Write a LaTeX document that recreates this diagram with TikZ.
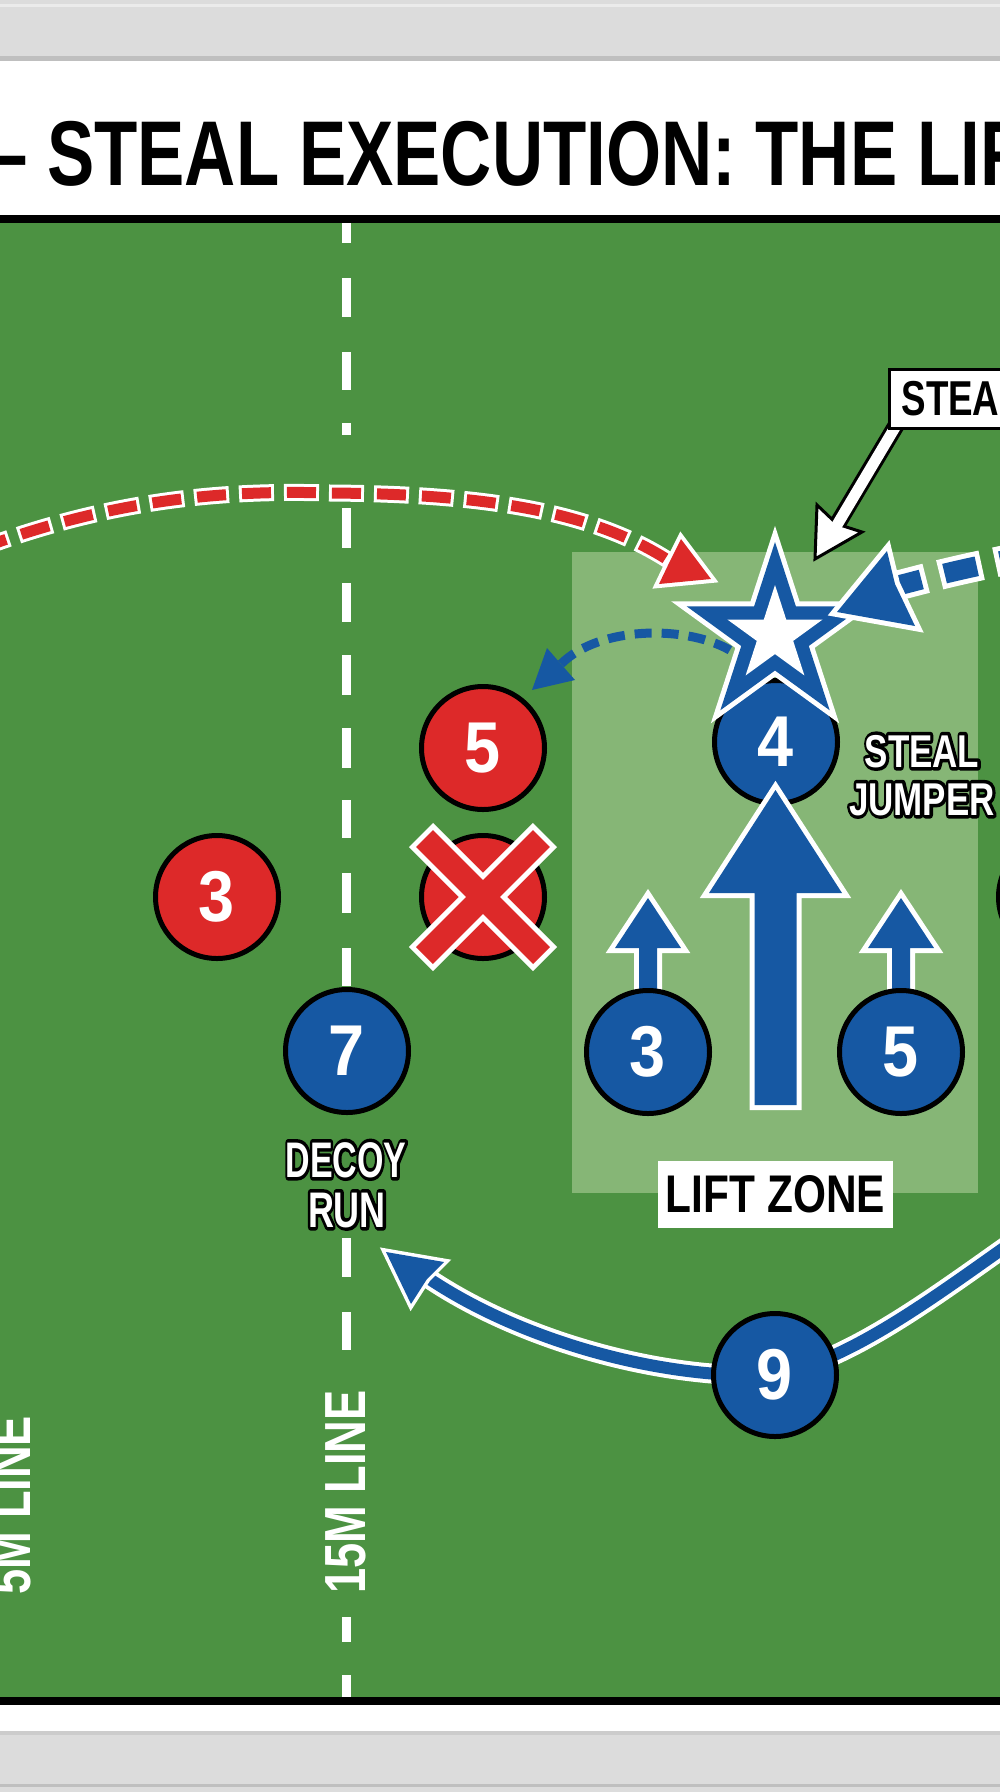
\documentclass[tikz,border=0pt]{standalone}
\usepackage{fontspec}
\setmainfont{Liberation Sans}
\usepackage{graphicx}
\definecolor{field}{RGB}{76,146,66}
\definecolor{zone}{RGB}{134,182,118}
\definecolor{tred}{RGB}{221,41,41}
\definecolor{tblue}{RGB}{22,88,163}
\definecolor{bandgray}{RGB}{220,220,220}
\newcommand\outl[1]{\leavevmode\rlap{\color{black}\special{pdf:literal direct 2 Tr 7 w 1 j}#1\special{pdf:literal direct 0 Tr 1 w 0 j}}{\color{white}#1}}
\newcommand\num[1]{\scalebox{0.9}[1]{#1}}
\tikzset{
  player/.style={circle, draw=black, line width=5pt, minimum size=123pt, inner sep=0pt, text=white, font=\fontsize{72}{72}\selectfont\bfseries},
  redp/.style={player, fill=tred},
  bluep/.style={player, fill=tblue},
  fieldlabel/.style={rotate=90, text=white, inner sep=0pt, font=\fontsize{58}{58}\selectfont\bfseries},
  outlabel/.style={anchor=base, inner sep=0pt, text=white},
  bluearrow/.style={fill=tblue, preaction={draw=white, line width=10pt, line join=miter}},
}
\begin{document}
\begin{tikzpicture}[x=1pt,y=-1pt]
\useasboundingbox (0,0) rectangle (1000,1792);
\begin{scope}
\clip (0,0) rectangle (1000,1792);
% frame
\fill[bandgray] (0,0) rectangle (1000,60);
\fill[white!92!black] (0,4) rectangle (1000,7);
\fill[black!25] (0,56) rectangle (1000,61);
\fill[white] (0,61) rectangle (1000,215);
\fill[black] (0,215) rectangle (1000,223);
\fill[field] (0,223) rectangle (1000,1697);
\fill[black] (0,1697) rectangle (1000,1705);
\fill[white] (0,1705) rectangle (1000,1731);
\fill[black!20] (0,1731) rectangle (1000,1735);
\fill[bandgray] (0,1735) rectangle (1000,1792);
\fill[black!25] (0,1784) rectangle (1000,1787);
% lift zone
\fill[zone] (572,552) rectangle (978,1193);
% 15m line
\foreach \a/\b in {223/243, 278/317, 352/390, 423/435, 508/548, 583/622, 655/695, 728/768, 800/838, 873/913, 948/986, 1238/1277, 1312/1350, 1617/1642, 1675/1697}
  \fill[white] (341.5,\a) rectangle (350.5,\b);
\node[fieldlabel] (l15) at (346,1492) {\scalebox{0.78}[1]{15M LINE}};
\node[fieldlabel] (l5) at (11,1505) {\scalebox{0.78}[1]{5M LINE}};
% red dashed arc
\coordinate (redtail) at (668,560);
\coordinate (redstart) at (-10,545);
\draw[white, line width=17pt, dash pattern=on 35pt off 10pt] (redtail) .. controls (590,510) and (480,494) .. (330,493) .. controls (230,490) and (120,498) .. (redstart);
\draw[tred, line width=11pt, dash pattern=on 29pt off 16pt, dash phase=42pt] (redtail) .. controls (590,510) and (480,494) .. (330,493) .. controls (230,490) and (120,498) .. (redstart);
\path[fill=tred, preaction={draw=white, line width=8pt, line join=miter}] (711,579) -- (681,539) -- (670,561) -- (659,584) -- cycle;
% small blue dashed arc from star to red 5
\coordinate (smalltail) at (561,664);
\coordinate (smallstart) at (733,652);
\draw[tblue, line width=9pt, dash pattern=on 17pt off 10pt] (smalltail) .. controls (600,625) and (690,625) .. (smallstart);
\fill[tblue] (532,690) -- (547,648) -- (560,663) -- (575,680) -- cycle;
% blue 9 band
\coordinate (b9in) at (1015,1240);
\coordinate (b9c) at (775,1375);
\coordinate (decoyend) at (428,1278);
\draw[white, line width=20pt] (b9in) .. controls (930,1300) and (850,1360) .. (b9c) .. controls (660,1380) and (520,1340) .. (decoyend);
\draw[tblue, line width=12pt] (b9in) .. controls (930,1300) and (850,1360) .. (b9c) .. controls (660,1380) and (520,1340) .. (decoyend);
\path[fill=tblue, preaction={draw=white, line width=7pt, line join=miter}] (386,1252) -- (444,1262) -- (427,1279) -- (411,1304) -- cycle;
% small lift arrows
\path[bluearrow, preaction={draw=white, line width=8pt, line join=miter}] (648,898) -- (681,948) -- (657,948) -- (657,1000) -- (639,1000) -- (639,948) -- (615,948) -- cycle;
\path[bluearrow, preaction={draw=white, line width=8pt, line join=miter}] (901,898) -- (934,948) -- (910,948) -- (910,1000) -- (892,1000) -- (892,948) -- (868,948) -- cycle;
% players
\node[redp] (r5) at (483,748) {\num{5}};
\node[redp] (rx) at (483,897) {};
\node[redp] (r3) at (217,897) {\num{3}};
\node[redp] (redge) at (1060,897) {};
\node[bluep] (b7) at (347,1051) {\num{7}};
\node[bluep] (b3) at (648,1052) {\num{3}};
\node[bluep] (b5) at (901,1052) {\num{5}};
\node[bluep] (b4) at (776,742) {\num{4}};
\node[bluep] (b9) at (b9c) {\num{9}};
% big lift arrow
\path[bluearrow] (775.5,790) -- (842,893) -- (796.5,893) -- (796.5,1105) -- (754.5,1105) -- (754.5,893) -- (709,893) -- cycle;
% star
\begin{scope}[shift={(775,635)}]
\path[fill=tblue, preaction={draw=white, line width=10pt, line join=miter}] (270:93) -- (306:35.5) -- (342:93) -- (18:35.5) -- (54:93) -- (90:35.5) -- (126:93) -- (162:35.5) -- (198:93) -- (234:35.5) -- cycle;
\fill[white] (270:50) -- (306:19.1) -- (342:50) -- (18:19.1) -- (54:50) -- (90:19.1) -- (126:50) -- (162:19.1) -- (198:50) -- (234:19.1) -- cycle;
\end{scope}
% blue dashed arrow from the right
\coordinate (bluetail) at (900,585);
\coordinate (bluestart) at (1015,558);
\draw[white, line width=30pt, dash pattern=on 43pt off 14pt, dash phase=16pt] (bluetail) .. controls (950,572) .. (bluestart);
\draw[tblue, line width=20pt, dash pattern=on 33pt off 24pt, dash phase=11pt] (bluetail) .. controls (950,572) .. (bluestart);
\path[fill=tblue, preaction={draw=white, line width=10pt, line join=miter}] (837,612) -- (887,551) -- (895,584) -- (915,626) -- cycle;
% cross over red player
\draw[white, line width=34pt] (421,835) -- (545,959);
\draw[white, line width=34pt] (545,835) -- (421,959);
\draw[tred, line width=24pt] (424.5,838.5) -- (541.5,955.5);
\draw[tred, line width=24pt] (541.5,838.5) -- (424.5,955.5);
% callout arrow
\coordinate (calloutfoot) at (897,424);
\coordinate (calloutnotch) at (838,523);
\draw[black, line width=17pt] (calloutfoot) -- (calloutnotch);
\path[fill=white, draw=black, line width=3pt, line join=miter] (815,559) -- (817,505) -- (837,524) -- (862,532) -- cycle;
\draw[white, line width=11pt] (calloutfoot) -- (834,530);
\node[draw=black, line width=3pt, fill=white, anchor=north west, minimum height=59pt, inner xsep=12pt, inner ysep=0pt, text=black, font=\fontsize{49}{49}\selectfont\bfseries] (callout) at (888,368) {\scalebox{0.75}[1]{STEAL}};
% labels
\node[outlabel, font=\fontsize{46}{46}\selectfont\bfseries] (sj1) at (922,767) {\outl{\scalebox{0.76}[1]{STEAL}}};
\node[outlabel, font=\fontsize{46}{46}\selectfont\bfseries] (sj2) at (922,815) {\outl{\scalebox{0.76}[1]{JUMPER}}};
\node[outlabel, font=\fontsize{50}{50}\selectfont\bfseries] (dr1) at (346,1177) {\outl{\scalebox{0.68}[1]{DECOY}}};
\node[outlabel, font=\fontsize{50}{50}\selectfont\bfseries] (dr2) at (347,1227) {\outl{\scalebox{0.72}[1]{RUN}}};
\node[fill=white, minimum width=235pt, minimum height=67pt, inner sep=0pt, text=black, font=\fontsize{53}{53}\selectfont\bfseries] (lz) at (775.5,1194.5) {\scalebox{0.8}[1]{LIFT ZONE}};
% title
\node[anchor=base west, inner sep=0pt, text=black, font=\fontsize{92}{92}\selectfont\bfseries] (title) at (-12,185) {\scalebox{0.77}[1]{– STEAL EXECUTION: THE LIFT}};
\end{scope}
\end{tikzpicture}
\end{document}
